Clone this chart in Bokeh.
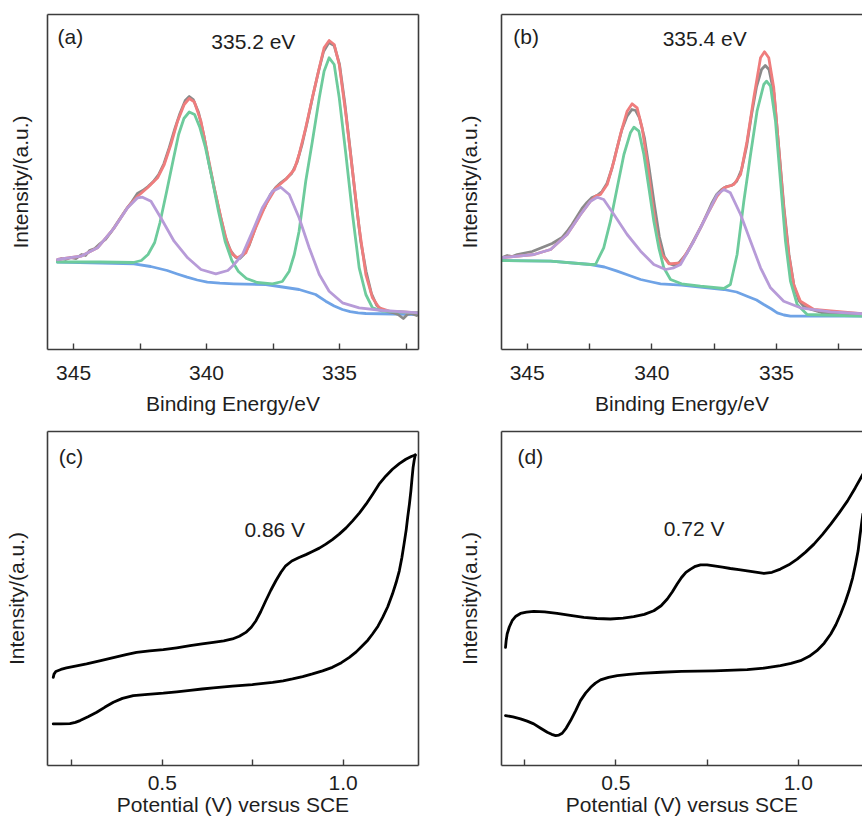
from bokeh.plotting import figure
from bokeh.models import Range1d, FixedTicker, LinearAxis, Label, PrintfTickFormatter
from bokeh.layouts import column, row
from bokeh.embed import file_html
from bokeh.resources import INLINE

# ---------------- data (a) ----------------
a_blue_E = [345.61, 342.73, 342.1, 341.48, 341.1, 340.73, 340.35, 339.97, 339.5, 338.97, 337.77, 336.52,
            335.90, 335.52, 335.2, 334.89, 334.6, 334.3, 334.01, 332.0]
a_blue_I = [87.3, 85.7, 83, 79, 75.5, 72.3, 69.5, 67.3, 66.3, 65.7, 65, 60,
            55, 48.3, 43.5, 40, 37.8, 36.6, 36, 35]

a_green_E = [345.61, 344.0, 342.75, 342.45, 342.2, 341.95, 341.75, 341.5, 341.25, 341.05, 340.85, 340.65,
             340.45, 340.25, 340.05, 339.8, 339.55, 339.3, 339.05, 338.8, 338.5, 338.1, 337.52, 337.15,
             336.89, 336.7, 336.52, 336.27, 336.02, 335.76, 335.58, 335.39, 335.20, 335.01, 334.76, 334.51,
             334.26, 334.01, 333.76, 333.38, 332.0]
a_green_I = [87.5, 87.5, 87, 89, 95, 107, 127, 158, 190, 215, 231, 237.5,
             235, 222, 203, 172, 138, 108, 89, 78, 71, 67, 65.7, 68,
             78.3, 95, 118.3, 168.3, 208.3, 251.7, 278.3, 291.7, 285, 251.7, 195, 135,
             81.7, 55, 41.7, 38.3, 36.7]

a_purple_E = [345.60, 344.72, 344.10, 343.47, 342.97, 342.59, 342.41, 342.09, 341.72, 341.22, 340.71, 340.21,
              339.65, 339.2, 339.0, 338.65, 338.27, 337.90, 337.52, 337.21, 336.89, 336.52, 336.14, 335.76,
              335.39, 334.89, 334.26, 333.38, 332.0]
a_purple_I = [90, 93.3, 101.7, 121.7, 141.7, 151.7, 152.3, 148.3, 131.7, 108.3, 91.7, 80,
              75.7, 79, 84, 95, 118.3, 141.7, 158.3, 162.3, 155, 131.7, 101.7, 75,
              58.3, 46.7, 41.7, 39, 36.7]

a_red_E = [345.60, 344.72, 344.10, 343.47, 342.97, 342.59, 342.22, 341.84, 341.59, 341.34, 341.09, 340.84,
           340.65, 340.46, 340.21, 339.96, 339.71, 339.46, 339.21, 339.02, 338.83, 338.52, 338.15, 337.77,
           337.39, 337.02, 336.70, 336.52, 336.27, 336.02, 335.76, 335.58, 335.39, 335.20, 335.01, 334.76,
           334.51, 334.26, 334.01, 333.76, 333.51, 333.13, 332.0]
a_red_I = [90, 93.3, 101.7, 121.7, 142, 153.3, 161.7, 171.7, 185, 205, 228.3, 245,
           251, 247.7, 228.3, 195, 161.7, 131.7, 105, 95, 91.7, 96.7, 121.7, 145,
           161.7, 170, 180, 195, 221.7, 251.7, 281.7, 301.7, 309, 305, 285, 235,
           178.3, 121.7, 75, 51.7, 41.7, 38.3, 36.7]

a_gray_E = [345.60, 345.45, 345.3, 345.1, 344.9, 344.7, 344.55, 344.4, 344.2, 344.0, 343.8, 343.6, 343.4,
            343.2, 343.0, 342.8, 342.6, 342.4, 342.2, 342.0, 341.8, 341.6, 341.4, 341.2, 341.0, 340.8,
            340.65, 340.5, 340.3, 340.1, 339.9, 339.7, 339.5, 339.3, 339.1, 338.9, 338.75, 338.6, 338.4,
            338.2, 338.0, 337.8, 337.6, 337.4, 337.2, 337.0, 336.8, 336.6, 336.4, 336.2, 336.0, 335.8,
            335.6, 335.4, 335.2, 335.0, 334.8, 334.6, 334.4, 334.2, 334.0, 333.8, 333.6, 333.4, 333.2,
            333.0, 332.8, 332.6, 332.45, 332.3, 332.1]
a_gray_I = [89, 91, 90, 92, 91, 95, 94, 99, 101, 106, 110, 117, 125,
            133, 141, 148, 156, 159, 163, 168, 175, 186, 202, 220, 236, 249,
            253, 250, 237, 214, 185, 160, 136, 113, 99, 92, 91, 95, 104,
            119, 134, 143, 155, 162, 167, 171, 176, 187, 206, 229, 254, 277,
            298, 307, 304, 285, 246, 200, 152, 108, 78, 56, 44, 40, 38,
            37, 35, 31, 35, 36, 34]

# ---------------- data (b) ----------------
b_blue_E = [346.07, 344.06, 342.46, 341.9, 341.39, 340.9, 340.45, 340.0, 339.65, 338.81, 337.11, 336.6,
            336.18, 335.8, 335.51, 335.2, 334.97, 334.7, 334.44, 331.55]
b_blue_I = [89, 88.3, 85, 82.5, 78.3, 74, 70, 67.5, 65.7, 64.3, 60, 57.5,
            53.3, 49.5, 45, 40.5, 36.7, 34.5, 33.3, 33.3]

b_green_E = [346.07, 344.06, 342.46, 342.26, 341.93, 341.66, 341.39, 341.12, 340.86, 340.72, 340.52, 340.32,
             340.12, 339.92, 339.72, 339.52, 339.25, 338.81, 338.05, 337.11, 336.85, 336.58, 336.31, 336.04,
             335.78, 335.51, 335.40, 335.24, 335.04, 334.84, 334.64, 334.44, 334.17, 333.77, 331.55]
b_green_I = [89, 88.3, 85, 85, 101.7, 128.3, 161.7, 195, 216.7, 222.3, 218.3, 195,
             161.7, 128.3, 101.7, 81.7, 70, 65.7, 63.3, 61, 65, 95, 148.3, 195,
             238.3, 265, 268.3, 263.3, 228.3, 168.3, 108.3, 68.3, 45, 35, 33.3]

b_purple_E = [346.07, 344.73, 344.06, 343.40, 342.86, 342.46, 342.19, 341.93, 341.52, 340.99, 340.45, 339.92,
              339.45, 339.12, 338.85, 338.32, 337.78, 337.38, 337.11, 336.85, 336.44, 336.04, 335.64, 335.24,
              334.71, 334.04, 332.84, 331.55]
b_purple_I = [91.7, 95, 100, 115, 135, 148.3, 152.3, 150, 135, 115, 98.3, 85,
              80, 81.7, 85, 108.3, 135, 155, 160, 156.7, 135, 108.3, 81.7, 61.7,
              48.3, 41.7, 37.7, 35.7]

b_red_E = [346.07, 344.73, 344.06, 343.40, 342.86, 342.46, 342.26, 342.06, 341.79, 341.52, 341.26, 340.99,
           340.79, 340.59, 340.39, 340.19, 339.99, 339.79, 339.59, 339.32, 338.85, 338.32, 337.78, 337.38,
           337.11, 336.71, 336.44, 336.18, 335.91, 335.64, 335.48, 335.31, 335.11, 334.91, 334.71, 334.51,
           334.31, 334.04, 333.50, 331.55]
b_red_I = [91.7, 95, 100, 115, 135, 148.3, 153.3, 155, 165, 188.3, 215, 238.3,
           245.7, 241.7, 221.7, 188.3, 148.3, 115, 95, 85.7, 86.7, 108.3, 135, 153.3,
           161.7, 165, 175, 208.3, 251.7, 291.7, 297.7, 291.7, 261.7, 201.7, 141.7, 95,
           65, 48.3, 40, 35.7]

b_gray_E = [346.0, 345.8, 345.6, 345.4, 345.2, 345.0, 344.8, 344.6, 344.4, 344.2, 344.0, 343.8, 343.6,
            343.4, 343.2, 343.0, 342.8, 342.6, 342.4, 342.2, 342.0, 341.8, 341.6, 341.4, 341.2, 341.0,
            340.8, 340.65, 340.5, 340.3, 340.1, 339.9, 339.7, 339.5, 339.3, 339.1, 338.9, 338.6, 338.3,
            338.0, 337.8, 337.6, 337.4, 337.2, 337.0, 336.8, 336.6, 336.4, 336.2, 336.0, 335.8, 335.6,
            335.45, 335.3, 335.1, 334.9, 334.7, 334.5, 334.3, 334.1, 333.9, 333.6, 333.2, 332.5, 331.6]
b_gray_I = [92, 94, 93, 95, 96, 97, 98, 100, 102, 104, 106, 109, 112,
            118, 125, 133, 141, 147, 152, 154, 158, 166, 181, 201, 220, 233,
            240, 239, 232, 212, 180, 145, 113, 93, 86, 84, 87, 96, 110,
            124, 135, 146, 155, 160, 163, 164, 168, 180, 203, 235, 263, 280,
            284, 280, 256, 200, 142, 95, 64, 49, 43, 40, 37, 36, 35]

# ---------------- data (c) ----------------
c_up_V = [0.1989, 0.2010, 0.2060, 0.2200, 0.2355, 0.26, 0.291, 0.33, 0.365, 0.40, 0.429, 0.465, 0.503,
          0.54, 0.577, 0.61, 0.641, 0.67, 0.694, 0.713, 0.731, 0.746, 0.759, 0.772, 0.786, 0.800, 0.814,
          0.828, 0.841, 0.858, 0.878, 0.897, 0.915, 0.934, 0.952, 0.970, 0.989, 1.008, 1.026, 1.045,
          1.063, 1.081, 1.099, 1.118, 1.136, 1.155, 1.173, 1.188, 1.199]
c_up_I = [88.3, 91.5, 94.2, 96.2, 97.7, 99.5, 101.7, 105, 108, 111, 113.2, 114.7, 116,
          117.9, 120, 121.8, 123.3, 124.8, 126.7, 129.5, 133.3, 138.5, 145, 154, 165, 175.5, 185,
          193.5, 200, 204.8, 208.3, 211.2, 214.3, 217.7, 221.7, 226.3, 231.7, 238, 245, 253,
          261.7, 271.5, 281.7, 290, 296.7, 302.3, 306.7, 309.5, 311]
c_lo_V = [0.1989, 0.22, 0.245, 0.26, 0.273, 0.295, 0.319, 0.342, 0.365, 0.39, 0.420, 0.46, 0.503,
          0.54, 0.577, 0.61, 0.641, 0.694, 0.749, 0.805, 0.834, 0.860, 0.888, 0.915, 0.943, 0.970,
          0.995, 1.017, 1.036, 1.053, 1.068, 1.081, 1.096, 1.109, 1.123, 1.136, 1.146, 1.155, 1.162,
          1.168, 1.174, 1.178, 1.183, 1.187, 1.190, 1.193, 1.196, 1.199]
c_lo_I = [41.7, 41.6, 41.9, 43.2, 45, 48.8, 53.3, 58.5, 63.3, 67.2, 70, 71.3, 72.4,
          73.8, 75.3, 76.6, 77.8, 79.5, 81.1, 83.3, 84.8, 86.7, 89, 91.7, 94.8, 98.3,
          103, 108.3, 113.8, 120, 125.5, 131.7, 139.5, 148.3, 159, 171.7, 183, 195, 208,
          221.7, 236, 248.3, 262, 275, 287, 298.3, 305.5, 311]

# ---------------- data (d) ----------------
d_up_V = [0.1976, 0.1995, 0.2021, 0.2080, 0.2158, 0.226, 0.2387, 0.255, 0.275, 0.305, 0.339, 0.375,
          0.412, 0.448, 0.485, 0.52, 0.549, 0.578, 0.604, 0.624, 0.641, 0.655, 0.668, 0.680, 0.692,
          0.705, 0.718, 0.732, 0.750, 0.769, 0.792, 0.814, 0.837, 0.860, 0.883, 0.906, 0.928, 0.951,
          0.974, 0.997, 1.020, 1.043, 1.066, 1.089, 1.112, 1.135, 1.156, 1.177]
d_up_I = [118.3, 125.5, 131.7, 138.7, 145, 149.5, 152.3, 153.6, 154.3, 153.8, 152.3, 150.3,
          148.3, 147.2, 146.7, 147.5, 149, 151.3, 155, 160, 166.7, 174, 181.7, 188.3, 193.5,
          196.7, 199.5, 201, 201, 200, 198.6, 197.3, 196.2, 195, 193.6, 192.3, 193.5, 196.7,
          201, 206.7, 213.7, 221.7, 231.2, 241.7, 253, 265, 278, 291.7]
d_lo_V = [0.1976, 0.218, 0.2387, 0.257, 0.275, 0.294, 0.312, 0.324, 0.335, 0.344, 0.353, 0.364,
          0.376, 0.39, 0.403, 0.417, 0.431, 0.444, 0.458, 0.48, 0.504, 0.536, 0.568, 0.624, 0.680,
          0.769, 0.860, 0.906, 0.951, 0.98, 1.006, 1.030, 1.051, 1.071, 1.089, 1.103, 1.116, 1.128,
          1.139, 1.149, 1.157, 1.164, 1.169, 1.173, 1.177]
d_lo_I = [50, 48.6, 46.7, 44.4, 41.7, 37.3, 33.3, 31.2, 30, 30.5, 32.3, 37.5,
          45, 55, 65, 72.5, 78.3, 82.5, 85.7, 88.3, 90, 91.3, 92.3, 93.4, 94.3,
          94.8, 96, 97.6, 100, 102.2, 105, 109.3, 115, 122.5, 131.7, 141, 151.7, 163,
          175, 188, 201.7, 215, 230, 241, 252]

xps_ticks = [345, 340, 335]
xps_minor = [342.5, 337.5, 332.5]
cv_ticks = [0.5, 1.0]
cv_minor = [0.25, 0.75]

FONT = "Liberation Sans"
FS = "21px"
FRAME = "#3c3c3c"
TXT = "#1e1e1e"
C_RED = "#ef7d7d"
C_GREEN = "#6dcb9c"
C_PURPLE = "#b79bd8"
C_BLUE = "#6fa3e6"
C_GRAY = "#8a8a8a"
LW = 2.8


def frame_axis(p, place):
    ax = LinearAxis(ticker=FixedTicker(ticks=[]), major_tick_in=0, major_tick_out=0,
                    minor_tick_in=0, minor_tick_out=0, axis_line_color=FRAME,
                    axis_line_width=1.6, major_label_standoff=0)
    p.add_layout(ax, place)


def make_fig(width, height, xr, yr, bl, br, bt, bb, xlabel, ticks, minor, fmt,
             ystandoff, tick_standoff, xstandoff, right_line):
    p = figure(width=width, height=height, x_range=Range1d(*xr), y_range=Range1d(*yr),
               min_border_left=bl, min_border_right=br, min_border_top=bt, min_border_bottom=bb,
               toolbar_location=None, output_backend="svg", outline_line_color=None,
               background_fill_color="white", border_fill_color="white")
    p.xgrid.visible = False
    p.ygrid.visible = False
    xa = p.xaxis[0]
    xa.ticker = FixedTicker(ticks=ticks, minor_ticks=minor)
    if fmt:
        xa.formatter = PrintfTickFormatter(format=fmt)
    ya = p.yaxis[0]
    ya.ticker = FixedTicker(ticks=[])
    for ax in (xa, ya):
        ax.axis_line_color = FRAME
        ax.axis_line_width = 1.6
        ax.major_tick_line_color = FRAME
        ax.minor_tick_line_color = FRAME
        ax.major_tick_line_width = 1.4
        ax.minor_tick_line_width = 1.4
        ax.major_tick_in = 6
        ax.major_tick_out = 0
        ax.minor_tick_in = 6
        ax.minor_tick_out = 0
        ax.major_label_text_font = FONT
        ax.major_label_text_font_size = FS
        ax.major_label_text_color = TXT
        ax.axis_label_text_font = FONT
        ax.axis_label_text_font_size = FS
        ax.axis_label_text_font_style = "normal"
        ax.axis_label_text_color = TXT
    xa.axis_label = xlabel
    xa.major_label_standoff = tick_standoff
    xa.axis_label_standoff = xstandoff
    ya.axis_label = "Intensity/(a.u.)"
    ya.axis_label_standoff = ystandoff
    ya.major_label_standoff = 0
    frame_axis(p, "above")
    if right_line:
        frame_axis(p, "right")
    return p


def add_label(p, x, y, text, align):
    p.add_layout(Label(x=x, y=y, text=text, text_font=FONT, text_font_size=FS,
                       text_color=TXT, text_align=align, text_baseline="middle"))


def xps_panel(p, blue, gray, red, green, purple):
    kw = dict(line_width=LW, line_join="round", line_cap="round")
    p.line(blue[0], blue[1], line_color=C_BLUE, **kw)
    p.line(gray[0], gray[1], line_color=C_GRAY, **kw)
    p.line(red[0], red[1], line_color=C_RED, **kw)
    p.line(green[0], green[1], line_color=C_GREEN, **kw)
    p.line(purple[0], purple[1], line_color=C_PURPLE, **kw)


TOP_H = 424
BOT_H = 401

# (a)
pa = make_fig(440, TOP_H, (345.98, 332.03), (0, 335), 47, 22, 14, 75, "Binding Energy/eV",
              xps_ticks, xps_minor, None, 16, 16, 9, True)
xps_panel(pa, (a_blue_E, a_blue_I), (a_gray_E, a_gray_I), (a_red_E, a_red_I),
          (a_green_E, a_green_I), (a_purple_E, a_purple_I))
add_label(pa, 345.6, 313, "(a)", "left")
add_label(pa, 338.24, 308, "335.2 eV", "center")

# (b)
pb = make_fig(422, TOP_H, (346.03, 331.55), (0, 335), 61, 0, 14, 75, "Binding Energy/eV",
              xps_ticks, xps_minor, None, 21, 16, 9, False)
xps_panel(pb, (b_blue_E, b_blue_I), (b_gray_E, b_gray_I), (b_red_E, b_red_I),
          (b_green_E, b_green_I), (b_purple_E, b_purple_I))
add_label(pb, 345.56, 313, "(b)", "left")
add_label(pb, 337.88, 310.7, "335.4 eV", "center")

# (c)
pc = make_fig(440, BOT_H, (0.183, 1.208), (0, 334.5), 47, 22, 7, 60, "Potential (V) versus SCE",
              cv_ticks, cv_minor, "%.1f", 20, 10, 0, True)
ck = dict(line_width=LW, line_color="black", line_join="round", line_cap="round")
pc.line(c_up_V, c_up_I, **ck)
pc.line(c_lo_V, c_lo_I, **ck)
add_label(pc, 0.2144, 309.5, "(c)", "left")
add_label(pc, 0.8108, 236.2, "0.86 V", "center")

# (d)
pd = make_fig(422, BOT_H, (0.1866, 1.176), (0, 334.5), 61, 0, 7, 60, "Potential (V) versus SCE",
              cv_ticks, cv_minor, "%.1f", 21, 10, 0, False)
pd.line(d_up_V, d_up_I, **ck)
pd.line(d_lo_V, d_lo_I, **ck)
add_label(pd, 0.2305, 309.5, "(d)", "left")
add_label(pd, 0.7144, 237, "0.72 V", "center")

layout = column(row(pa, pb), row(pc, pd))
open("out.html", "w").write(file_html(layout, INLINE))
